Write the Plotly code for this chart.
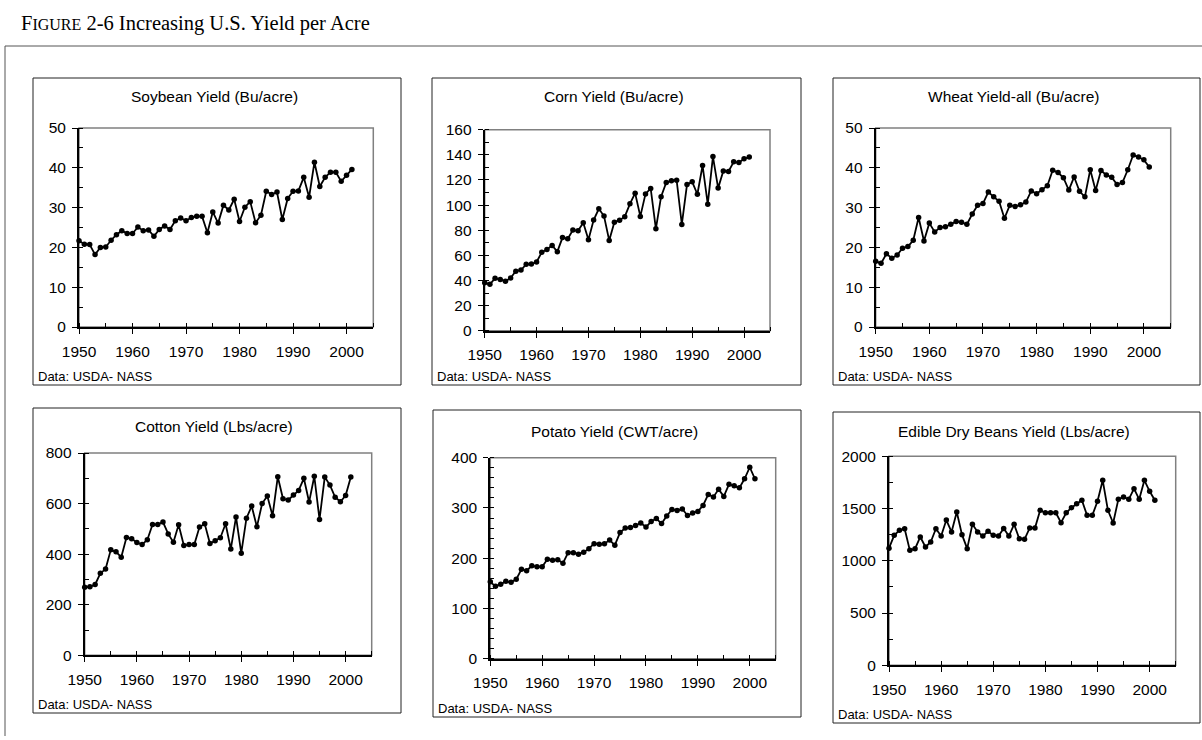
import plotly.graph_objects as go

W, H = 1202, 740

years = list(range(1950, 2002))

soybean = [21.7, 20.8, 20.7, 18.2, 20.0, 20.1, 21.8, 23.2, 24.2, 23.5,
           23.5, 25.1, 24.2, 24.4, 22.8, 24.5, 25.4, 24.5, 26.7, 27.4,
           26.7, 27.5, 27.8, 27.8, 23.7, 28.9, 26.1, 30.6, 29.4, 32.1,
           26.5, 30.1, 31.5, 26.2, 28.1, 34.1, 33.3, 33.9, 27.0, 32.3,
           34.1, 34.2, 37.6, 32.6, 41.4, 35.3, 37.6, 38.9, 38.9, 36.6,
           38.1, 39.6]

corn = [38.2, 36.9, 41.8, 40.7, 39.4, 42.0, 47.4, 48.3, 52.8, 53.1,
        54.7, 62.4, 64.7, 67.9, 62.9, 74.1, 73.1, 80.1, 79.5, 85.9,
        72.4, 88.1, 97.0, 91.3, 71.9, 86.4, 88.0, 90.8, 101.0, 109.5,
        91.0, 108.9, 113.2, 81.1, 106.7, 118.0, 119.4, 119.8, 84.6, 116.3,
        118.5, 108.6, 131.5, 100.7, 138.6, 113.5, 127.1, 126.7, 134.4, 133.8,
        136.9, 138.2]

wheat = [16.5, 16.0, 18.4, 17.3, 18.1, 19.8, 20.2, 21.8, 27.5, 21.6,
         26.1, 23.9, 25.0, 25.2, 25.8, 26.5, 26.3, 25.8, 28.4, 30.6,
         31.0, 33.9, 32.7, 31.6, 27.3, 30.6, 30.3, 30.7, 31.4, 34.2,
         33.5, 34.5, 35.5, 39.4, 38.8, 37.5, 34.4, 37.7, 34.1, 32.7,
         39.5, 34.3, 39.3, 38.2, 37.6, 35.8, 36.3, 39.5, 43.2, 42.7,
         42.0, 40.2]

cotton = [269, 271, 280, 324, 341, 417, 409, 388, 466, 461,
          446, 438, 457, 517, 517, 527, 480, 447, 516, 434,
          438, 438, 507, 520, 442, 453, 465, 520, 420, 547,
          404, 542, 590, 508, 600, 630, 552, 706, 619, 614,
          634, 652, 700, 606, 708, 537, 705, 673, 625, 607,
          632, 705]

potato = [153, 144, 148, 154, 152, 158, 178, 175, 185, 183,
          183, 198, 196, 197, 190, 211, 211, 208, 212, 219,
          229, 228, 229, 236, 226, 251, 260, 261, 265, 270,
          262, 273, 279, 269, 284, 297, 295, 298, 285, 290,
          293, 305, 327, 322, 337, 323, 347, 344, 340, 358,
          381, 358]

beans = [1120, 1244, 1292, 1307, 1100, 1116, 1228, 1132, 1180, 1307,
         1237, 1390, 1276, 1467, 1250, 1116, 1349, 1276, 1237, 1282,
         1244, 1237, 1310, 1237, 1349, 1210, 1206, 1314, 1314, 1483,
         1460, 1460, 1460, 1365, 1460, 1508, 1547, 1579, 1435, 1435,
         1569, 1770, 1483, 1362, 1588, 1610, 1588, 1690, 1588, 1770,
         1665, 1579]

titles = ["Soybean Yield (Bu/acre)", "Corn Yield (Bu/acre)", "Wheat Yield-all (Bu/acre)",
          "Cotton Yield (Lbs/acre)", "Potato Yield (CWT/acre)", "Edible Dry Beans Yield (Lbs/acre)"]
series = [soybean, corn, wheat, cotton, potato, beans]
y_max = [50, 160, 50, 800, 400, 2000]
y_major = [10, 20, 10, 200, 100, 500]
y_minor = [5, 10, 5, 100, 20, 250]
source_note = "Data: USDA- NASS"
fig_title = "F<span style='font-size:16px'>IGURE</span> 2-6 Increasing U.S. Yield per Acre"

# plot-area pixel boxes: x0, x1, ytop, ybottom
plot_px = [(79, 373.3, 128, 327), (484.7, 770, 129.7, 330.7), (875.7, 1170.7, 128, 327),
           (84.7, 371.7, 453, 655.3), (490.3, 775.7, 457.7, 658.7), (889, 1175.7, 456.3, 665.3)]
# panel frames: x0, y0, x1, y1 (px from top-left)
panel_px = [(33, 78, 401, 385), (432, 78, 801, 385), (833, 78, 1200, 385),
            (33, 408, 401, 713), (433, 410, 801, 717), (833, 412, 1200, 723)]
title_y = [96, 96, 96, 426, 431, 431]


def fx(px):
    return px / W


def fy(py):
    return 1 - py / H


fig = go.Figure()
font_sans = "Liberation Sans, Arial, sans-serif"

for i in range(6):
    n = i + 1
    xa = "x" if n == 1 else f"x{n}"
    ya = "y" if n == 1 else f"y{n}"
    fig.add_trace(go.Scatter(
        x=years, y=series[i], xaxis=xa, yaxis=ya, mode="lines+markers",
        line=dict(color="black", width=1.8),
        marker=dict(color="black", size=5.5),
        showlegend=False, hoverinfo="x+y", cliponaxis=False))
    x0, x1, yt, yb = plot_px[i]
    common = dict(showline=True, linecolor="black", linewidth=2, showgrid=False,
                  zeroline=False, ticks="outside", ticklen=5, tickwidth=1.2,
                  tickcolor="black", automargin=False,
                  tickfont=dict(family=font_sans, size=15.5, color="black"))
    fig.update_layout({
        ("xaxis" if n == 1 else f"xaxis{n}"): dict(
            domain=[fx(x0), fx(x1)], anchor=ya, range=[1950, 2005],
            tick0=1950, dtick=10, ticklabelstandoff=4,
            minor=dict(dtick=5, tick0=1950, ticks="inside", ticklen=4, tickcolor="black"),
            **common),
        ("yaxis" if n == 1 else f"yaxis{n}"): dict(
            domain=[fy(yb), fy(yt)], anchor=xa, range=[0, y_max[i]],
            tick0=0, dtick=y_major[i], ticklabelstandoff=3,
            minor=dict(dtick=y_minor[i], tick0=0, ticks="inside", ticklen=4, tickcolor="black"),
            **common),
    })
    # gray plot-area border
    fig.add_shape(type="rect", xref=f"{xa} domain", yref=f"{ya} domain",
                  x0=0, x1=1, y0=0, y1=1, line=dict(color="#808080", width=1.5),
                  layer="below")
    # panel frame
    px0, py0, px1, py1 = panel_px[i]
    fig.add_shape(type="rect", xref="paper", yref="paper",
                  x0=fx(px0), x1=fx(px1), y0=fy(py1), y1=fy(py0),
                  line=dict(color="#222222", width=1))
    fig.add_annotation(text=titles[i], xref="paper", yref="paper",
                       x=fx((px0 + px1) / 2 - 3), y=fy(title_y[i]),
                       xanchor="center", yanchor="middle", showarrow=False,
                       font=dict(family=font_sans, size=15.5, color="black"))
    fig.add_annotation(text=source_note, xref="paper", yref="paper",
                       x=fx(px0 + 3), y=fy(py1 - 9), xanchor="left", yanchor="middle",
                       showarrow=False,
                       font=dict(family=font_sans, size=13, color="black"))

# outer frame lines
fig.add_shape(type="line", xref="paper", yref="paper", x0=fx(5), x1=1, y0=fy(46), y1=fy(46),
              line=dict(color="#555555", width=1))
fig.add_shape(type="line", xref="paper", yref="paper", x0=fx(5), x1=fx(5), y0=fy(46), y1=fy(736),
              line=dict(color="#555555", width=1))

fig.add_annotation(text=fig_title, xref="paper", yref="paper", x=fx(19), y=fy(23),
                   xanchor="left", yanchor="middle", showarrow=False,
                   font=dict(family="Liberation Serif, Times New Roman, serif", size=20.5, color="black"))

fig.update_layout(width=W, height=H,
                  margin=dict(l=0, r=0, t=0, b=0, pad=0, autoexpand=False),
                  paper_bgcolor="white", plot_bgcolor="white")

fig.write_html("out.html", config={"displayModeBar": False},
               post_script="document.body.style.margin='0px';")
